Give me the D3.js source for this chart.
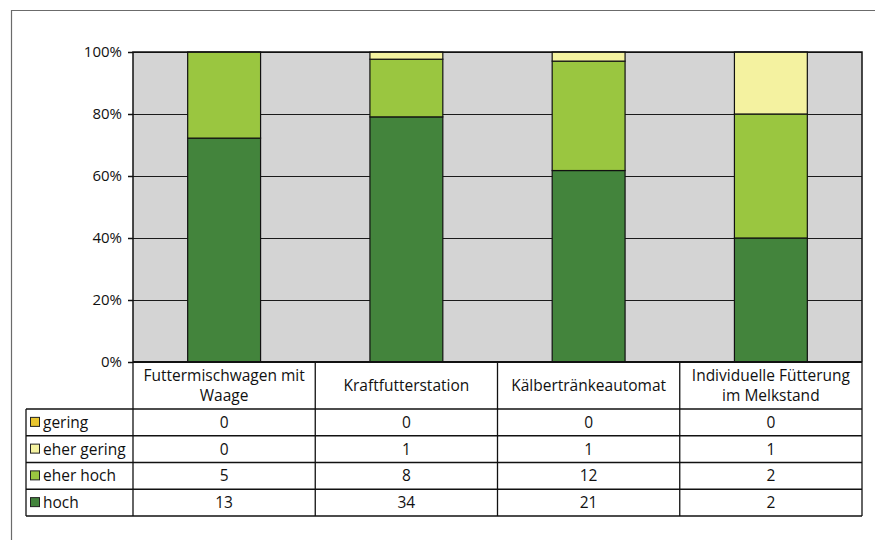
<!DOCTYPE html>
<html>
<head>
<meta charset="utf-8">
<script src="https://cdn.jsdelivr.net/npm/d3@7"></script>
<style>
  html, body { margin: 0; padding: 0; background: #fff; }
  svg { display: block; font-family: "Open Sans", "Noto Sans", sans-serif; }
</style>
</head>
<body>
<svg id="chart" width="875" height="540"></svg>
<script>
// Farm equipment categories and the number of answers per rating
const categories = ["Futtermischwagen mit Waage", "Kraftfutterstation", "Kälbertränkeautomat", "Individuelle Fütterung im Melkstand"];
const seriesNames = ["gering", "eher gering", "eher hoch", "hoch"];
const gering     = [0, 0, 0, 0];
const eherGering = [0, 1, 1, 1];
const eherHoch   = [5, 8, 12, 2];
const hoch       = [13, 34, 21, 2];
const yTicks = [0, 0.2, 0.4, 0.6, 0.8, 1.0];

const colors = {
  "gering": "#e9c62f",
  "eher gering": "#f4f2a0",
  "eher hoch": "#9ac640",
  "hoch": "#43843c"
};

const valuesBySeries = { "gering": gering, "eher gering": eherGering, "eher hoch": eherHoch, "hoch": hoch };
const rows = categories.map((c, i) => {
  const r = { category: c };
  seriesNames.forEach(s => r[s] = valuesBySeries[s][i]);
  return r;
});

const svg = d3.select("#chart");
const plot = { left: 133, right: 862, top: 52, bottom: 362 };
const tableLeft = 26;
const headerBottom = 409;
const rowH = 26.75;
const fontSize = 15.5;

// outer frame
svg.append("path")
  .attr("d", `M11.5,540 L11.5,10.5 L875,10.5`)
  .attr("fill", "none").attr("stroke", "#6b6b6b").attr("stroke-width", 1.2);

const x = d3.scaleBand().domain(categories).range([plot.left, plot.right]).paddingInner(0).paddingOuter(0);
const y = d3.scaleLinear().domain([0, 1]).range([plot.bottom, plot.top]);

// plot background
svg.append("rect")
  .attr("x", plot.left).attr("y", plot.top)
  .attr("width", plot.right - plot.left).attr("height", plot.bottom - plot.top)
  .attr("fill", "#d4d4d4");

// gridlines
svg.append("g").selectAll("line").data(yTicks.filter(t => t > 0)).join("line")
  .attr("x1", plot.left).attr("x2", plot.right)
  .attr("y1", d => Math.round(y(d)) + 0.5).attr("y2", d => Math.round(y(d)) + 0.5)
  .attr("stroke", "#1a1a1a").attr("stroke-width", 1);

// stacked 100% bars: hoch at the bottom
const stack = d3.stack().keys(seriesNames.slice().reverse()).offset(d3.stackOffsetExpand);
const stacked = stack(rows);
const barW = x.bandwidth() * 0.4;

svg.append("g").selectAll("g").data(stacked).join("g")
  .attr("fill", d => colors[d.key])
  .selectAll("rect").data(d => d.filter(p => p[1] - p[0] > 0)).join("rect")
  .attr("x", d => x(d.data.category) + (x.bandwidth() - barW) / 2)
  .attr("width", barW)
  .attr("y", d => y(d[1]))
  .attr("height", d => y(d[0]) - y(d[1]))
  .attr("stroke", "#111").attr("stroke-width", 1.2);

// plot border
svg.append("path")
  .attr("d", `M${plot.left},${plot.bottom} V${plot.top} H${plot.right} V${plot.bottom}`)
  .attr("fill", "none").attr("stroke", "#111").attr("stroke-width", 1.5);

// y axis
const yAxis = d3.axisLeft(y).tickValues(yTicks).tickFormat(d3.format(".0%")).tickSize(5).tickPadding(6);
const gy = svg.append("g").attr("transform", `translate(${plot.left},0)`).call(yAxis);
gy.select(".domain").remove();
gy.selectAll(".tick line").attr("stroke", "#111").attr("stroke-width", 1.5);
gy.selectAll(".tick text").attr("font-size", 15).attr("fill", "#111")
  .attr("font-family", "'Open Sans', 'Noto Sans', sans-serif");

// data table grid
const tg = svg.append("g").attr("stroke", "#111").attr("fill", "none");
const nRows = seriesNames.length;
const tableBottom = headerBottom + nRows * rowH;
// bottom axis line
tg.append("line").attr("x1", plot.left).attr("x2", plot.right)
  .attr("y1", plot.bottom).attr("y2", plot.bottom).attr("stroke-width", 2.2);
// horizontal row lines
d3.range(nRows + 1).forEach(i => {
  tg.append("line").attr("x1", tableLeft).attr("x2", plot.right)
    .attr("y1", headerBottom + i * rowH).attr("y2", headerBottom + i * rowH).attr("stroke-width", 1.3);
});
// vertical lines
tg.append("line").attr("x1", tableLeft).attr("x2", tableLeft).attr("y1", headerBottom).attr("y2", tableBottom).attr("stroke-width", 1.3);
categories.concat([null]).forEach((c, i) => {
  const xx = c ? x(c) : plot.right;
  tg.append("line").attr("x1", xx).attr("x2", xx).attr("y1", plot.bottom).attr("y2", tableBottom).attr("stroke-width", 1.3);
});

// header labels, wrapped to column width
const header = svg.append("g").attr("font-size", fontSize).attr("fill", "#111").attr("text-anchor", "middle");
categories.forEach(c => {
  const cx = x(c) + x.bandwidth() / 2;
  const t = header.append("text").attr("x", cx);
  const words = c.split(" ");
  const lines = [];
  let line = [];
  const maxW = x.bandwidth() - 8;
  words.forEach(w => {
    line.push(w);
    t.text(line.join(" "));
    if (t.node().getComputedTextLength() > maxW && line.length > 1) {
      line.pop();
      lines.push(line.join(" "));
      line = [w];
    }
  });
  lines.push(line.join(" "));
  t.text(null);
  const lh = 20;
  const midY = (plot.bottom + headerBottom) / 2;
  const y0 = midY - (lines.length - 1) * lh / 2 + 5.5;
  lines.forEach((l, i) => t.append("tspan").attr("x", cx).attr("y", y0 + i * lh).text(l));
});

// table rows: legend cell and values
const body = svg.append("g").attr("font-size", fontSize).attr("fill", "#111");
seriesNames.forEach((s, r) => {
  const cy = headerBottom + r * rowH + rowH / 2;
  body.append("rect").attr("x", tableLeft + 4.5).attr("y", cy - 5).attr("width", 9).attr("height", 9)
    .attr("fill", colors[s]).attr("stroke", "#222").attr("stroke-width", 1);
  body.append("text").attr("x", tableLeft + 17).attr("y", cy + 5.5).text(s);
  valuesBySeries[s].forEach((v, i) => {
    body.append("text").attr("x", x(categories[i]) + x.bandwidth() / 2).attr("y", cy + 5.5)
      .attr("text-anchor", "middle").text(v);
  });
});
</script>
</body>
</html>
